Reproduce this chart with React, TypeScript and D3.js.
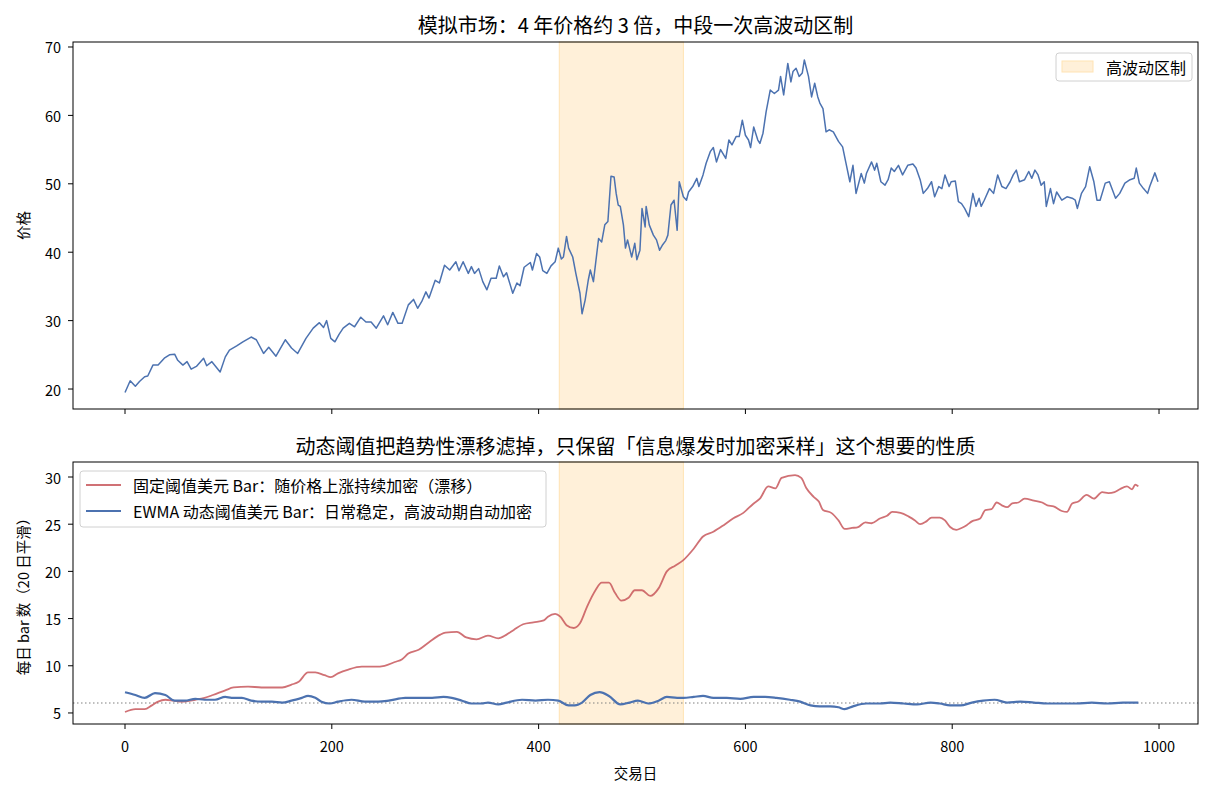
import React from "react";
import * as d3 from "d3";

// ---------- data ----------
const priceDays = [0,5,10,14,19,22,27,32,38,43,48,51,56,60,64,69,76,79,84,92,97,101,108,114,122,127,134,139,146,155,161,167,175,182,188,192,195,199,203,207,211,217,222,228,233,238,243,250,254,259,264,268,274,279,283,287,291,294,300,304,309,314,320,323,327,332,335,338,342,346,350,354,359,362,366,369,375,379,382,386,392,394,398,401,404,408,412,416,419,422,424,427,429,433,436,440,442,445,448,450,453,458,461,464,467,470,473,475,477,479,482,484,486,490,493,495,498,500,503,504,507,511,514,517,520,523,525,528,531,534,536,540,543,545,549,553,555,559,562,566,569,572,576,581,584,587,591,594,597,600,603,605,608,612,614,617,620,624,628,632,634,637,641,644,646,649,652,655,657,661,664,667,670,672,675,678,681,685,690,694,697,701,704,707,712,715,717,722,725,727,731,735,738,741,744,748,752,757,762,765,769,772,776,780,783,787,790,793,797,799,803,806,809,812,816,820,823,826,828,831,836,840,844,848,852,856,859,862,865,870,874,877,880,883,886,889,891,895,898,901,906,911,916,919,921,925,929,933,937,940,943,948,952,955,958,962,967,972,976,978,981,985,989,991,996,999];
const priceValues = [19.5,21.2,20.4,21.1,21.8,21.9,23.5,23.5,24.5,25.0,25.1,24.2,23.5,24.0,22.9,23.3,24.5,23.4,24.0,22.5,24.7,25.7,26.3,26.9,27.6,27.2,25.2,26.1,24.8,27.2,26.0,25.2,27.4,28.9,29.7,29.0,30.0,27.4,26.9,28.0,28.9,29.6,29.1,30.5,29.8,29.8,28.9,30.7,29.4,31.2,29.6,29.6,32.3,33.1,31.8,32.8,34.2,33.3,35.9,35.5,38.1,37.4,38.6,37.3,38.6,36.9,37.9,36.9,37.6,35.7,34.5,36.2,36.2,38.0,36.4,37.0,34.0,35.5,35.1,37.8,38.5,37.4,39.8,39.3,37.3,36.9,38.0,38.6,40.6,39.0,39.3,42.3,40.6,39.3,36.9,34.0,31.0,33.0,35.9,37.4,35.7,42.0,41.5,44.0,44.5,51.1,51.0,48.6,46.9,46.7,44.0,40.6,41.8,39.3,41.3,38.9,40.3,46.4,43.7,46.7,44.0,42.5,41.8,40.3,41.1,41.7,42.5,46.9,47.6,43.2,50.3,48.1,47.6,48.8,49.6,50.8,49.6,51.3,53.0,54.7,55.3,53.2,55.0,53.7,56.4,55.7,56.9,56.9,59.3,57.1,56.4,55.3,58.3,56.4,55.9,57.4,60.5,63.7,63.2,63.7,65.7,63.0,67.6,64.9,66.4,66.9,65.7,66.2,68.1,65.7,62.7,64.7,62.7,61.8,61.0,57.6,57.9,57.6,56.2,55.4,53.2,50.3,52.7,48.6,51.5,50.1,51.5,53.2,52.0,53.0,50.3,49.8,50.6,52.3,51.8,52.7,51.3,52.7,52.9,52.3,50.6,48.6,49.3,50.3,48.1,49.6,49.3,51.3,49.6,50.3,50.4,47.4,47.1,46.4,45.2,48.6,46.7,47.9,46.7,47.6,49.3,48.6,51.3,49.6,49.3,50.3,51.3,52.0,50.3,50.6,51.8,50.8,52.0,51.3,49.8,50.3,46.7,49.3,47.1,48.8,47.6,48.1,47.9,47.6,46.4,48.6,49.6,52.5,50.3,47.6,47.6,50.1,50.3,49.1,47.9,48.6,50.1,50.6,50.8,52.3,50.1,49.3,48.6,49.6,51.6,50.3];

const fixedDays = [0,10,19,26,32,39,47,55,68,77,85,97,105,119,132,142,152,161,168,177,184,193,199,206,216,229,242,251,261,268,274,284,294,305,310,321,330,340,351,361,369,376,385,395,405,409,416,421,427,434,440,447,455,461,468,474,480,487,493,500,508,516,524,532,540,550,559,569,579,588,598,608,614,622,629,635,648,654,659,666,671,675,683,690,696,703,709,716,722,730,737,742,750,758,764,769,775,780,788,793,798,804,809,814,819,827,832,838,843,848,853,858,864,870,879,887,892,898,906,911,916,922,930,937,945,951,957,962,969,974,977,980];
const fixedBars = [5.1,5.4,5.4,5.8,6.2,6.4,6.3,6.2,6.4,6.6,6.9,7.4,7.7,7.8,7.7,7.7,7.7,8.0,8.3,9.3,9.3,9.0,8.8,9.2,9.6,9.9,9.9,10.0,10.4,10.7,11.3,11.7,12.5,13.3,13.5,13.6,13.0,12.8,13.2,12.9,13.3,13.8,14.4,14.6,14.8,15.2,15.5,15.2,14.3,14.0,14.5,16.3,18.0,18.8,18.8,17.7,16.9,17.2,18.0,18.0,17.4,18.2,20.0,20.6,21.2,22.4,23.7,24.2,24.9,25.6,26.2,27.2,27.7,29.0,28.8,29.9,30.2,29.9,28.8,27.9,27.4,26.5,26.2,25.4,24.5,24.6,24.7,25.2,25.1,25.6,25.9,26.3,26.2,25.8,25.4,25.0,25.3,25.7,25.7,25.4,24.7,24.4,24.6,24.9,25.3,25.6,26.5,26.6,27.3,27.0,26.8,27.2,27.3,27.7,27.5,27.3,27.0,26.9,26.4,26.3,27.2,27.4,28.1,27.7,28.4,28.3,28.4,28.7,29.0,28.7,29.2,29.0];

const ewmaDays = [0,10,19,29,39,48,58,68,77,87,97,103,113,122,132,142,152,161,171,177,184,190,198,206,219,232,245,255,271,284,297,308,316,326,335,345,351,361,369,384,397,409,419,429,435,442,450,459,468,479,488,496,506,516,524,534,540,550,559,569,582,595,608,619,630,643,653,663,672,682,690,696,704,717,730,740,753,766,779,788,798,808,819,830,841,853,866,879,892,904,920,935,950,965,980];
const ewmaBars = [7.2,6.9,6.6,7.1,6.9,6.3,6.3,6.5,6.4,6.4,6.7,6.6,6.6,6.3,6.2,6.2,6.1,6.3,6.6,6.8,6.6,6.2,6.0,6.2,6.4,6.2,6.2,6.3,6.6,6.6,6.6,6.7,6.6,6.3,6.0,6.0,6.1,5.9,6.1,6.4,6.3,6.4,6.3,5.8,5.8,6.1,6.9,7.2,6.8,5.9,6.1,6.3,6.0,6.3,6.7,6.6,6.6,6.7,6.8,6.6,6.6,6.5,6.7,6.7,6.6,6.4,6.2,5.8,5.7,5.7,5.6,5.4,5.7,6.0,6.0,6.1,6.0,5.9,6.1,6.0,5.8,5.8,6.1,6.3,6.4,6.1,6.2,6.1,6.0,6.0,6.0,6.1,6.0,6.1,6.1];

const xTicks = [0, 200, 400, 600, 800, 1000];
const priceTicks = [20, 30, 40, 50, 60, 70];
const barTicks = [5, 10, 15, 20, 25, 30];
const regime = [420, 540];
const baselineBars = 6.05;

const titleTop = "模拟市场：4 年价格约 3 倍，中段一次高波动区制";
const titleBottom = "动态阈值把趋势性漂移滤掉，只保留「信息爆发时加密采样」这个想要的性质";
const labelPrice = "价格";
const labelBars = "每日 bar 数（20 日平滑）";
const labelX = "交易日";
const legendRegime = "高波动区制";
const legendFixed = "固定阈值美元 Bar：随价格上涨持续加密（漂移）";
const legendEwma = "EWMA 动态阈值美元 Bar：日常稳定，高波动期自动加密";

// ---------- styles ----------
const FONT = "'Noto Sans CJK SC', 'Noto Sans', sans-serif";
const BLUE = "#4C72B0";
const RED = "#C44E52";

export default function App() {
  const W = 1221, H = 793;
  const L = 73, R = 1198;
  const t1 = 42, b1 = 409, t2 = 462, b2 = 724;

  const x = d3.scaleLinear().domain([-50.3, 1037.7]).range([L, R]);
  const yP = d3.scaleLinear().domain([17.08, 70.73]).range([b1, t1]);
  const yB = d3.scaleLinear().domain([3.83, 31.59]).range([b2, t2]);

  const priceLine = d3.line<number>().x((_, i) => x(priceDays[i])).y((v) => yP(v))(priceValues) || "";
  const fixedLine = d3.line<number>().x((_, i) => x(fixedDays[i])).y((v) => yB(v)).curve(d3.curveMonotoneX)(fixedBars) || "";
  const ewmaLine = d3.line<number>().x((_, i) => x(ewmaDays[i])).y((v) => yB(v)).curve(d3.curveMonotoneX)(ewmaBars) || "";

  const fs = 14.5;
  const lfs = 16;
  const tfs = 20;
  const tickLen = 5;

  const xAxis = (bottom: number, labels: boolean) => (
    <g>
      {xTicks.map((t) => (
        <g key={t}>
          <line x1={x(t)} x2={x(t)} y1={bottom} y2={bottom + tickLen} stroke="#000" strokeWidth={1} />
          {labels && (
            <text x={x(t)} y={bottom + 21} textAnchor="middle" fontSize={fs} fontFamily={FONT} dominantBaseline="central" fill="#000">
              {t}
            </text>
          )}
        </g>
      ))}
    </g>
  );

  const yAxis = (ticks: number[], scale: d3.ScaleLinear<number, number>) => (
    <g>
      {ticks.map((t) => (
        <g key={t}>
          <line x1={L - tickLen} x2={L} y1={scale(t)} y2={scale(t)} stroke="#000" strokeWidth={1} />
          <text x={L - 12} y={scale(t)} textAnchor="end" dominantBaseline="central" fontSize={fs} fontFamily={FONT} fill="#000">
            {t}
          </text>
        </g>
      ))}
    </g>
  );

  return (
    <svg width={W} height={H} style={{ position: "absolute", left: 0, top: 0, display: "block", background: "#fff" }}>
      <defs>
        <clipPath id="c1"><rect x={L} y={t1} width={R - L} height={b1 - t1} /></clipPath>
        <clipPath id="c2"><rect x={L} y={t2} width={R - L} height={b2 - t2} /></clipPath>
      </defs>
      <rect x={0} y={0} width={W} height={H} fill="#fff" />

      {/* ---------- top panel ---------- */}
      <text x={(L + R) / 2} y={24} textAnchor="middle" dominantBaseline="central" fontSize={tfs} fontFamily={FONT} fill="#000">{titleTop}</text>
      <rect x={x(regime[0])} y={t1} width={x(regime[1]) - x(regime[0])} height={b1 - t1} fill="#fff0d9" stroke="#ffe3b3" strokeWidth={1} />
      <path d={priceLine} fill="none" stroke={BLUE} strokeWidth={1.5} strokeLinejoin="round" clipPath="url(#c1)" />
      <rect x={L} y={t1} width={R - L} height={b1 - t1} fill="none" stroke="#000" strokeWidth={1} />
      {xAxis(b1, false)}
      {yAxis(priceTicks, yP)}
      <text transform={`translate(22,${(t1 + b1) / 2}) rotate(-90)`} textAnchor="middle" dominantBaseline="central" fontSize={fs} fontFamily={FONT} fill="#000">{labelPrice}</text>

      {/* top legend */}
      <rect x={1056} y={53} width={136} height={28} rx={3} fill="#fff" fillOpacity={0.8} stroke="#d0d0d0" strokeWidth={1} />
      <rect x={1062} y={61} width={31} height={11} fill="#fff0d9" stroke="#ffe3b3" strokeWidth={1} />
      <text x={1106} y={67} dominantBaseline="central" fontSize={lfs} fontFamily={FONT} fill="#000">{legendRegime}</text>

      {/* ---------- bottom panel ---------- */}
      <text x={(L + R) / 2} y={445} textAnchor="middle" dominantBaseline="central" fontSize={tfs} fontFamily={FONT} fill="#000">{titleBottom}</text>
      <rect x={x(regime[0])} y={t2} width={x(regime[1]) - x(regime[0])} height={b2 - t2} fill="#fff0d9" stroke="#ffe3b3" strokeWidth={1} />
      <line x1={L} x2={R} y1={yB(baselineBars)} y2={yB(baselineBars)} stroke="#808080" strokeWidth={1.1} strokeDasharray="1.5,2.5" />
      <g clipPath="url(#c2)">
        <path d={fixedLine} fill="none" stroke={RED} strokeOpacity={0.8} strokeWidth={1.8} strokeLinejoin="round" />
        <path d={ewmaLine} fill="none" stroke={BLUE} strokeWidth={2.2} strokeLinejoin="round" />
      </g>
      <rect x={L} y={t2} width={R - L} height={b2 - t2} fill="none" stroke="#000" strokeWidth={1} />
      {xAxis(b2, true)}
      {yAxis(barTicks, yB)}
      <text transform={`translate(22,${(t2 + b2) / 2}) rotate(-90)`} textAnchor="middle" dominantBaseline="central" fontSize={fs} fontFamily={FONT} fill="#000">{labelBars}</text>
      <text x={(L + R) / 2} y={772} textAnchor="middle" dominantBaseline="central" fontSize={fs} fontFamily={FONT} fill="#000">{labelX}</text>

      {/* bottom legend */}
      <rect x={80} y={471} width={466} height={56} rx={3} fill="#fff" fillOpacity={0.8} stroke="#d0d0d0" strokeWidth={1} />
      <line x1={86} x2={121} y1={485} y2={485} stroke={RED} strokeOpacity={0.8} strokeWidth={1.8} />
      <text x={133} y={485} dominantBaseline="central" fontSize={lfs} fontFamily={FONT} fill="#000">{legendFixed}</text>
      <line x1={86} x2={121} y1={511} y2={511} stroke={BLUE} strokeWidth={2.2} />
      <text x={133} y={511} dominantBaseline="central" fontSize={lfs} fontFamily={FONT} fill="#000">{legendEwma}</text>
    </svg>
  );
}
